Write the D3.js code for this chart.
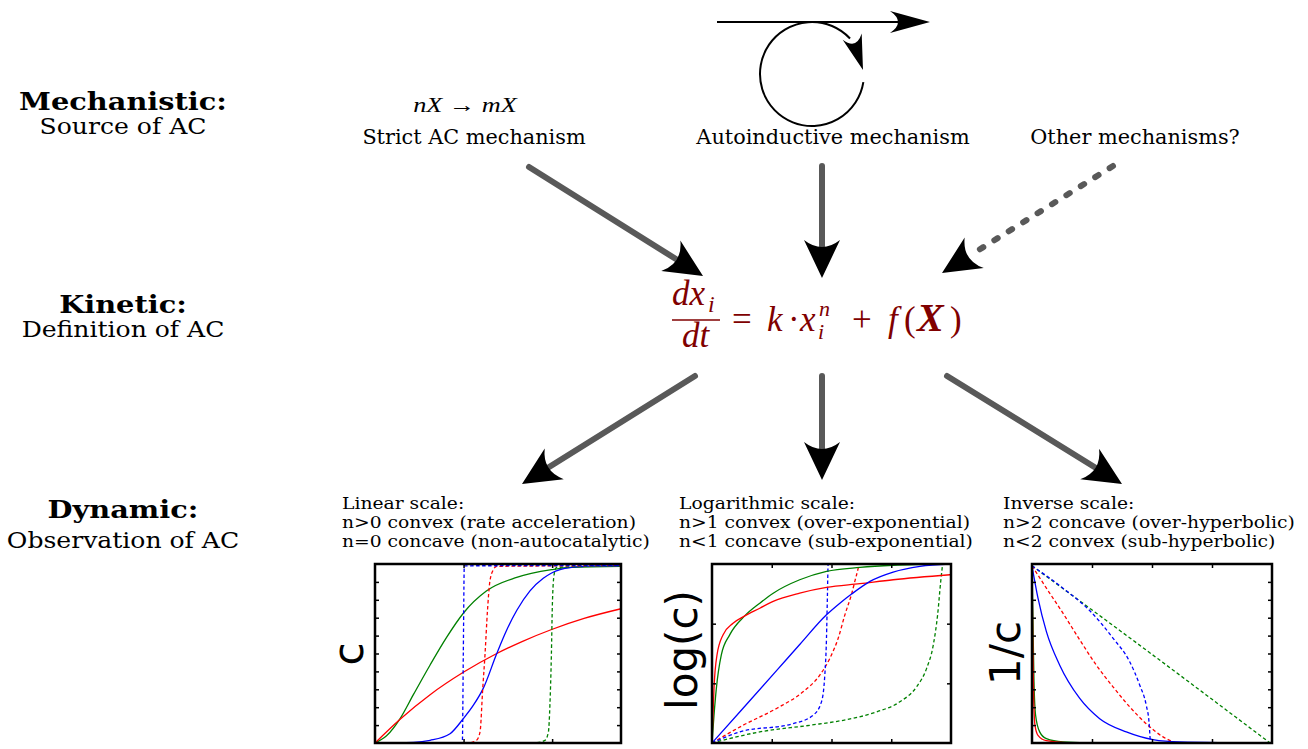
<!DOCTYPE html>
<html><head><meta charset="utf-8">
<script src="https://cdn.jsdelivr.net/npm/d3@7"></script>
<style>body{margin:0;background:#fff}svg{display:block}</style>
</head><body>
<svg id="c" width="1308" height="749"></svg>
<script>
// ---------- DATA ----------
const rowTitles = ["Mechanistic:", "Kinetic:", "Dynamic:"];
const rowSubtitles = ["Source of AC", "Definition of AC", "Observation of AC"];
const mechanismLabels = ["Strict AC mechanism", "Autoinductive mechanism", "Other mechanisms?"];
const scaleNotes = [
  ["Linear scale:", "n>0 convex (rate acceleration)", "n=0 concave (non-autocatalytic)"],
  ["Logarithmic scale:", "n>1 convex (over-exponential)", "n<1 concave (sub-exponential)"],
  ["Inverse scale:", "n>2 concave (over-hyperbolic)", "n<2 convex (sub-hyperbolic)"]
];
const axisLabels = ["c", "log(c)", "1/c"];

// panel 1: linear scale, [t, c]
const linGreen = [[0,0],[4.7,0.04],[10.2,0.136],[15.6,0.27],[22.4,0.436],[29.1,0.59],[35.9,0.725],[45.4,0.85],[57.6,0.925],[71.8,0.968],[79.3,0.981],[100,0.987]];
const linRed = [[0,0],[10.2,0.133],[22.4,0.27],[35.9,0.395],[49.5,0.5],[60,0.568],[71.8,0.634],[85,0.696],[100,0.75]];
const linBlue = [[0,0],[15.6,0.004],[22.4,0.015],[30.5,0.052],[35.9,0.136],[40,0.211],[44,0.305],[49.5,0.5],[53.5,0.63],[57.6,0.74],[63,0.85],[68.4,0.92],[71.8,0.95],[79.3,0.98],[90,0.989],[100,0.991]];
const linBlueDash = [[0,0],[35.5,0.002],[35.9,0.5],[36.3,0.99],[100,0.991]];
const linRedDash = [[0,0],[38.6,0.002],[41.3,0.015],[42.7,0.062],[43.8,0.305],[44.7,0.49],[45.7,0.735],[46.7,0.903],[48.1,0.968],[49.5,0.987],[100,0.991]];
const linGreenDash = [[0,0],[65.7,0.002],[69.1,0.015],[70.5,0.062],[71.1,0.211],[71.7,0.492],[72.1,0.772],[72.8,0.94],[73.8,0.981],[100,0.991]];
const linXTicks = [36, 72];
const linYTicks = [0.1,0.2,0.3,0.4,0.5,0.6,0.7,0.8,0.9];

// panel 2: logarithmic scale, [t, log10 c]
const logGreen = [[0,-3],[0.84,-2.535],[1.82,-2.085],[3.9,-1.524],[7.4,-1.188],[13.7,-0.87],[20,-0.657],[25.6,-0.489],[36.7,-0.264],[47.9,-0.123],[61.9,-0.057],[75.8,-0.021],[98.2,0]];
const logRed = [[0,-3],[0.42,-2.535],[0.84,-2.085],[2.1,-1.524],[4.6,-1.188],[8.8,-0.993],[13.7,-0.87],[20,-0.741],[25.6,-0.627],[36.7,-0.489],[47.9,-0.393],[61.9,-0.33],[75.8,-0.264],[99.6,-0.18]];
const logBlue = [[0,-3],[13,-2.418],[27,-1.788],[36.7,-1.35],[47.9,-0.852],[53.5,-0.657],[58.4,-0.504],[66.1,-0.291],[75.8,-0.135],[87,-0.039],[99.6,0]];
const logBlueDash = [[0,-3],[11.6,-2.814],[33.9,-2.676],[42.3,-2.535],[45.8,-2.31],[47.2,-1.863],[47.9,-1.245],[48.3,-0.516],[48.6,0],[99.6,0]];
const logRedDash = [[0,-3],[13,-2.703],[27,-2.421],[38.1,-2.142],[45.1,-1.863],[49.3,-1.581],[52.8,-1.245],[55.6,-0.852],[58.4,-0.504],[60.5,-0.18],[61.9,0],[99.6,0]];
const logGreenDash = [[0,-3],[20,-2.814],[40.9,-2.703],[54.9,-2.619],[68.9,-2.478],[78.6,-2.31],[85.6,-2.058],[89.8,-1.749],[92.6,-1.356],[94.4,-0.852],[95.7,-0.291],[96.5,0]];
const logXTicks = [25, 50, 75];
const logYTicks = [-2, -1];

// panel 3: inverse scale, [t, 1/c]
const invGreenDash = [[0,0.99],[50,0.495],[99.2,0]];
const invBlueDash = [[0,0.99],[12.9,0.865],[24,0.74],[33.8,0.585],[40.7,0.454],[44.9,0.323],[47.6,0.211],[48.75,0.118],[49.3,0.006]];
const invRedDash = [[0,0.99],[6,0.865],[12.9,0.725],[19.9,0.576],[26.8,0.435],[33.75,0.314],[40.7,0.202],[47.6,0.108],[54.6,0.034],[60.1,0]];
const invBlue = [[0,0.99],[2.5,0.809],[6,0.622],[11.5,0.436],[19.9,0.249],[28.2,0.136],[39.3,0.062],[50.4,0.019],[61.5,0.006],[100,0]];
const invGreen = [[0,0.99],[0.4,0.679],[0.83,0.342],[1.5,0.155],[3.2,0.062],[6,0.024],[12.9,0.006],[26.8,0],[100,0]];
const invRed = [[0,0.99],[0.4,0.492],[0.7,0.249],[1.25,0.099],[2.5,0.043],[6,0.013],[14.3,0.002],[30,0],[100,0]];
const invXTicks = [25, 50, 75];
const invYTicks = [0.1,0.2,0.3,0.4,0.5,0.6,0.7,0.8,0.9];

// ---------- DRAW ----------
const svg = d3.select("#c");
const SERIF = "DejaVu Serif", MATH = "Liberation Serif", SANS = "DejaVu Sans";
const EQ = "#800000";
const GREEN = "#008000", RED = "#ff0000", BLUE = "#0000ff";

function txt(x, y, s, size, sx, anchor, weight, family) {
  return svg.append("text").attr("transform", `translate(${x},${y}) scale(${sx},1)`)
    .attr("text-anchor", anchor || "start").attr("font-family", family || SERIF)
    .attr("font-weight", weight || null).attr("font-size", size).text(s);
}

// row titles
const titleY = [110, 313, 518], subY = [134, 337, 548];
rowTitles.forEach((t, i) => {
  txt(123, titleY[i], t, 24, 1.2, "middle", "bold");
  txt(123, subY[i], rowSubtitles[i], 22, 1.14, "middle");
});

// mechanism labels
const mechX = [474, 833, 1135];
mechanismLabels.forEach((t, i) => txt(mechX[i], 144, t, 20.8, 1, "middle"));

// nX -> mX
const rx = svg.append("text").attr("transform", "translate(465,112) scale(1.25,1)").attr("text-anchor", "middle")
  .attr("font-family", MATH).attr("font-size", 21);
rx.append("tspan").attr("font-style", "italic").text("nX");
rx.append("tspan").text(" \u2192 ");
rx.append("tspan").attr("font-style", "italic").text("mX");

// arrowhead helper
function head(g, tx, ty, ang, L, Wd, notch, fill) {
  const p = `M0,0 L${-L},${-Wd} Q${-L + notch * 2},0 ${-L},${Wd} Z`;
  g.append("path").attr("d", p).attr("fill", fill || "#000")
    .attr("transform", `translate(${tx},${ty}) rotate(${ang * 180 / Math.PI})`);
}
function bigArrow(x0, y0, x1, y1, dashed) {
  const ang = Math.atan2(y1 - y0, x1 - x0);
  const L = 38;
  const ex = x1 - (L - 6) * Math.cos(ang), ey = y1 - (L - 6) * Math.sin(ang);
  svg.append("line").attr("x1", x0).attr("y1", y0).attr("x2", ex).attr("y2", ey)
    .attr("stroke", "#595959").attr("stroke-width", 6).attr("stroke-linecap", "round")
    .attr("stroke-dasharray", dashed ? "4,13" : null);
  head(svg, x1, y1, ang, L, 18, 7);
}
bigArrow(529, 167, 703, 276);
bigArrow(822, 166, 822, 278);
bigArrow(1113, 166, 942, 273, true);
bigArrow(695, 376, 522, 484);
bigArrow(822, 376, 822, 480);
bigArrow(947, 376, 1122, 484);

// autoinductive icon
svg.append("line").attr("x1", 717).attr("y1", 22).attr("x2", 900).attr("y2", 22)
  .attr("stroke", "#000").attr("stroke-width", 2);
head(svg, 930, 22, 0, 40, 11, 8);
const cp = d3.path();
const deg = Math.PI / 180;
cp.arc(812, 74, 52, 9 * deg, 317 * deg, false);
svg.append("path").attr("d", cp.toString()).attr("fill", "none").attr("stroke", "#000").attr("stroke-width", 2);
head(svg, 863, 70, 72 * deg, 35, 10, 7);

// equation
function eqText(x, y, t, size, italic, bold) {
  return svg.append("text").attr("x", x).attr("y", y).attr("font-family", MATH)
    .attr("font-size", size).attr("font-style", italic ? "italic" : null)
    .attr("font-weight", bold ? "bold" : null).attr("fill", EQ).text(t);
}
eqText(672, 305, "dx", 35, true);
eqText(708, 312, "i", 24, true);
svg.append("line").attr("x1", 672).attr("x2", 720).attr("y1", 320).attr("y2", 320)
  .attr("stroke", EQ).attr("stroke-width", 1.6);
eqText(682, 347, "dt", 35, true);
eqText(732, 331, "=", 35, false);
eqText(767, 331, "k", 35, true);
eqText(788, 331, "\u00b7", 35, false);
eqText(800, 331, "x", 35, true);
eqText(819, 316, "n", 22, true);
eqText(818, 339, "i", 22, true);
eqText(852, 331, "+", 35, false);
eqText(888, 331, "f", 35, true);
eqText(904, 331, "(", 35, false);
eqText(917, 331, "X", 40, true, true);
eqText(950, 331, ")", 35, false);

// scale notes
const noteX = [342, 679, 1003];
scaleNotes.forEach((lines, i) => {
  lines.forEach((t, j) => txt(noteX[i], 509 + j * 19, t, 16, 1.17, "start"));
});

// panels
const panels = [
  {x0: 375, x1: 621, yDom: [0, 1], xt: linXTicks, yt: linYTicks, lx: 363, ly: 654,
   series: [[linGreen, GREEN, false], [linRed, RED, false], [linBlue, BLUE, false],
            [linGreenDash, GREEN, true], [linRedDash, RED, true], [linBlueDash, BLUE, true]]},
  {x0: 712, x1: 951, yDom: [-3, 0], xt: logXTicks, yt: logYTicks, lx: 697, ly: 650,
   series: [[logGreenDash, GREEN, true], [logRedDash, RED, true], [logBlueDash, BLUE, true],
            [logGreen, GREEN, false], [logRed, RED, false], [logBlue, BLUE, false]]},
  {x0: 1032, x1: 1272, yDom: [0, 1], xt: invXTicks, yt: invYTicks, lx: 1020, ly: 653,
   series: [[invGreenDash, GREEN, true], [invRedDash, RED, true], [invBlueDash, BLUE, true],
            [invBlue, BLUE, false], [invGreen, GREEN, false], [invRed, RED, false]]}
];
const PT = 564, PB = 743;
panels.forEach((p, i) => {
  const x = d3.scaleLinear().domain([0, 100]).range([p.x0, p.x1]);
  const y = d3.scaleLinear().domain(p.yDom).range([PB, PT]);
  const g = svg.append("g");
  const line = d3.line().x(d => x(d[0])).y(d => y(d[1])).curve(d3.curveMonotoneX);
  p.series.forEach(([data, col, dash]) => {
    g.append("path").attr("d", line(data)).attr("fill", "none").attr("stroke", col)
      .attr("stroke-width", 1.3).attr("stroke-dasharray", dash ? "3.5,2.5" : null);
  });
  const mk = (axis, tx, ty) => {
    const a = g.append("g").attr("transform", `translate(${tx},${ty})`).call(axis);
    a.select(".domain").remove();
    a.selectAll(".tick line").attr("stroke", "#000").attr("stroke-width", 1.5);
    a.selectAll("text").remove();
  };
  mk(d3.axisBottom(x).tickValues(p.xt).tickSize(-4).tickFormat(""), 0, PB);
  mk(d3.axisTop(x).tickValues(p.xt).tickSize(-4).tickFormat(""), 0, PT);
  mk(d3.axisLeft(y).tickValues(p.yt).tickSize(-4).tickFormat(""), p.x0, 0);
  mk(d3.axisRight(y).tickValues(p.yt).tickSize(-4).tickFormat(""), p.x1, 0);
  g.append("rect").attr("x", p.x0).attr("y", PT).attr("width", p.x1 - p.x0).attr("height", PB - PT)
    .attr("fill", "none").attr("stroke", "#000").attr("stroke-width", 2.5);
  svg.append("text").attr("transform", `translate(${p.lx},${p.ly}) rotate(-90)`)
    .attr("text-anchor", "middle").attr("font-family", SANS).attr("font-size", 42)
    .text(axisLabels[i]);
});
</script>
</body></html>
